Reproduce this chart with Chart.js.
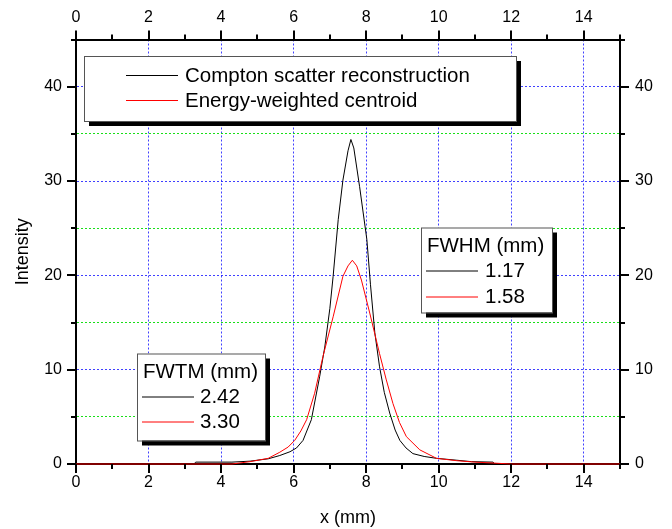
<!DOCTYPE html>
<html>
<head>
<meta charset="utf-8">
<script src="https://cdn.jsdelivr.net/npm/chart.js@4.4.1/dist/chart.umd.min.js"></script>
<style>
  html, body { margin: 0; padding: 0; background: #fff; }
  #wrap { width: 672px; height: 529px; }
</style>
</head>
<body>
<div id="wrap"><canvas id="chart" width="672" height="529"></canvas></div>
<script>
// black curve: Compton scatter reconstruction
const comptonX = [0, 3.25, 3.3, 4.3, 4.8, 5.3, 5.62, 5.9, 6.08, 6.26, 6.49, 6.72, 6.86, 7.0, 7.09, 7.23, 7.36, 7.5, 7.58, 7.66, 7.82, 8.02, 8.12, 8.24, 8.37, 8.5, 8.65, 8.8, 8.93, 9.1, 9.29, 9.6, 9.94, 10.5, 10.9, 11.5, 11.55, 15];
const comptonY = [0, 0, 0.2, 0.2, 0.3, 0.55, 0.9, 1.3, 1.7, 2.5, 4.7, 9.3, 12.4, 16.5, 19.9, 25.9, 30.1, 33.2, 34.4, 33.5, 29.4, 23.8, 19.0, 13.9, 10.3, 7.6, 5.4, 3.6, 2.5, 1.7, 1.1, 0.8, 0.6, 0.4, 0.25, 0.2, 0, 0];

// red curve: energy-weighted centroid
const centroidX = [0, 4.3, 4.8, 5.3, 5.62, 5.85, 6.03, 6.2, 6.36, 6.58, 6.81, 7.09, 7.36, 7.5, 7.62, 7.74, 7.87, 8.1, 8.37, 8.55, 8.74, 8.92, 9.11, 9.48, 9.94, 10.5, 11.0, 11.5, 12.0, 15];
const centroidY = [0, 0, 0.25, 0.6, 1.25, 1.8, 2.5, 3.5, 4.7, 7.5, 11.4, 15.6, 19.9, 21.0, 21.6, 21.0, 19.5, 16.0, 11.7, 9.0, 6.4, 4.4, 2.9, 1.5, 0.6, 0.35, 0.2, 0.1, 0, 0];

const seriesNames = ["Compton scatter reconstruction", "Energy-weighted centroid"];
const fwhmTitle = "FWHM (mm)";
const fwhmValues = ["1.17", "1.58"];
const fwtmTitle = "FWTM (mm)";
const fwtmValues = ["2.42", "3.30"];

const xLabels = [0, 2, 4, 6, 8, 10, 12, 14];
const yLabels = [0, 10, 20, 30, 40];

const FONT = "'Liberation Sans', Arial, sans-serif";
const BLUE = "rgba(0,0,255,0.75)";
const GREEN = "rgba(0,220,0,0.9)";

function pts(xs, ys){ return xs.map((x, i) => ({ x, y: ys[i] })); }

// sizes of the axis boxes, so the plot frame lands where the original is
function fixSize(prop, val){ return s => { s[prop] = val; }; }

// tick marks outside the frame (long on labelled ticks, short otherwise)
const frameTicks = {
  id: "frameTicks",
  afterDraw(chart){
    const ctx = chart.ctx;
    const { x, x2, y, y2 } = chart.scales;
    ctx.save();
    ctx.strokeStyle = "#000";
    ctx.lineWidth = 2;
    ctx.beginPath();
    x.ticks.forEach(t => {
      const len = xLabels.includes(t.value) ? 9 : 5;
      const px = Math.round(x.getPixelForValue(t.value));
      ctx.moveTo(px, x.top); ctx.lineTo(px, x.top + len);
      ctx.moveTo(px, x2.bottom); ctx.lineTo(px, x2.bottom - len);
    });
    y.ticks.forEach(t => {
      const len = yLabels.includes(t.value) ? 9 : 5;
      const py = Math.round(y.getPixelForValue(t.value));
      ctx.moveTo(y.right, py); ctx.lineTo(y.right - len, py);
      ctx.moveTo(y2.left, py); ctx.lineTo(y2.left + len, py);
    });
    ctx.stroke();
    ctx.restore();
  }
};

function drawBox(ctx, left, top, w, h){
  ctx.fillStyle = "#000";
  ctx.fillRect(left + 5, top + 5, w, h);
  ctx.fillStyle = "#fff";
  ctx.fillRect(left, top, w, h);
  ctx.strokeStyle = "#555";
  ctx.lineWidth = 1;
  ctx.strokeRect(left + 0.5, top + 0.5, w, h);
}

function sample(ctx, color, x1, x2, y){
  ctx.strokeStyle = color;
  ctx.lineWidth = 1;
  ctx.beginPath();
  ctx.moveTo(x1, y + 0.5);
  ctx.lineTo(x2, y + 0.5);
  ctx.stroke();
}

// legend and the two FWHM / FWTM boxes
const boxes = {
  id: "boxes",
  afterDraw(chart){
    const ctx = chart.ctx;
    const ca = chart.chartArea;
    const colors = chart.data.datasets.map(d => d.borderColor);
    ctx.save();
    ctx.font = "20.5px " + FONT;
    ctx.textBaseline = "middle";
    ctx.textAlign = "left";

    // main legend
    let L = ca.left + 8, T = ca.top + 16.5;
    drawBox(ctx, L, T, 432, 65);
    [19, 44].forEach((dy, i) => {
      sample(ctx, colors[i], L + 42, L + 94, T + dy);
      ctx.fillStyle = "#000";
      ctx.fillText(seriesNames[i], L + 101, T + dy + 1);
    });

    // FWHM
    L = ca.left + 345; T = ca.top + 188;
    drawBox(ctx, L, T, 131, 85);
    ctx.fillStyle = "#000";
    ctx.fillText(fwhmTitle, L + 6, T + 19);
    [43, 69].forEach((dy, i) => {
      sample(ctx, colors[i], L + 5, L + 57, T + dy);
      ctx.fillStyle = "#000";
      ctx.fillText(fwhmValues[i], L + 64, T + dy + 1);
    });

    // FWTM
    L = ca.left + 61; T = ca.top + 314;
    drawBox(ctx, L, T, 128, 87);
    ctx.fillStyle = "#000";
    ctx.fillText(fwtmTitle, L + 6, T + 19);
    [43, 68].forEach((dy, i) => {
      sample(ctx, colors[i], L + 5, L + 57, T + dy);
      ctx.fillStyle = "#000";
      ctx.fillText(fwtmValues[i], L + 63, T + dy + 1);
    });
    ctx.restore();
  }
};

Chart.defaults.font.family = FONT;
Chart.defaults.color = "#000";

const xTick = { stepSize: 1, padding: 9, font: { size: 16 }, color: "#000", maxRotation: 0, autoSkip: false,
  callback: v => xLabels.includes(v) ? v : "" };
const yTick = { stepSize: 5, font: { size: 16 }, color: "#000", autoSkip: false,
  callback: v => yLabels.includes(v) ? v : "" };
const frameBorder = { display: true, color: "#000", width: 2 };

new Chart(document.getElementById("chart"), {
  type: "scatter",
  data: {
    datasets: [
      { label: seriesNames[0], data: pts(comptonX, comptonY), borderColor: "#000000", borderWidth: 1,
        showLine: true, pointRadius: 0, tension: 0, clip: false, order: 1 },
      { label: seriesNames[1], data: pts(centroidX, centroidY), borderColor: "#ff0000", borderWidth: 1,
        showLine: true, pointRadius: 0, tension: 0, clip: false, order: 0 }
    ]
  },
  options: {
    responsive: false,
    animation: false,
    events: [],
    layout: { padding: 0 },
    plugins: { legend: { display: false }, tooltip: { enabled: false } },
    scales: {
      x: {
        type: "linear", position: "bottom", min: 0, max: 15,
        ticks: xTick,
        grid: { drawTicks: false, lineWidth: 1,
          color: c => (c.tick && xLabels.includes(c.tick.value) && c.tick.value !== 0) ? BLUE : "rgba(0,0,0,0)" },
        border: { ...frameBorder, dash: [2, 2] },
        title: { display: true, text: "x (mm)", font: { size: 18 }, color: "#000", padding: { top: 0, bottom: 0 } },
        afterFit: fixSize("height", 65)
      },
      x2: {
        type: "linear", position: "top", min: 0, max: 15,
        ticks: { ...xTick, padding: 12 },
        grid: { drawTicks: false, drawOnChartArea: false },
        border: frameBorder,
        afterFit: fixSize("height", 39.5)
      },
      y: {
        type: "linear", position: "left", min: 0, max: 45,
        ticks: { ...yTick, padding: 14 },
        grid: { drawTicks: false, lineWidth: 1,
          color: c => {
            const v = c.tick ? c.tick.value : 0;
            if (v === 0 || v === 45) return "rgba(0,0,0,0)";
            return yLabels.includes(v) ? BLUE : GREEN;
          } },
        border: { ...frameBorder, dash: [2, 2] },
        title: { display: true, text: "Intensity", font: { size: 18 }, color: "#000", padding: { top: 12, bottom: 0 } },
        afterFit: fixSize("width", 76)
      },
      y2: {
        type: "linear", position: "right", min: 0, max: 45,
        ticks: { ...yTick, padding: 15 },
        grid: { drawTicks: false, drawOnChartArea: false },
        border: frameBorder,
        afterFit: fixSize("width", 52)
      }
    }
  },
  plugins: [frameTicks, boxes]
});
</script>
</body>
</html>
